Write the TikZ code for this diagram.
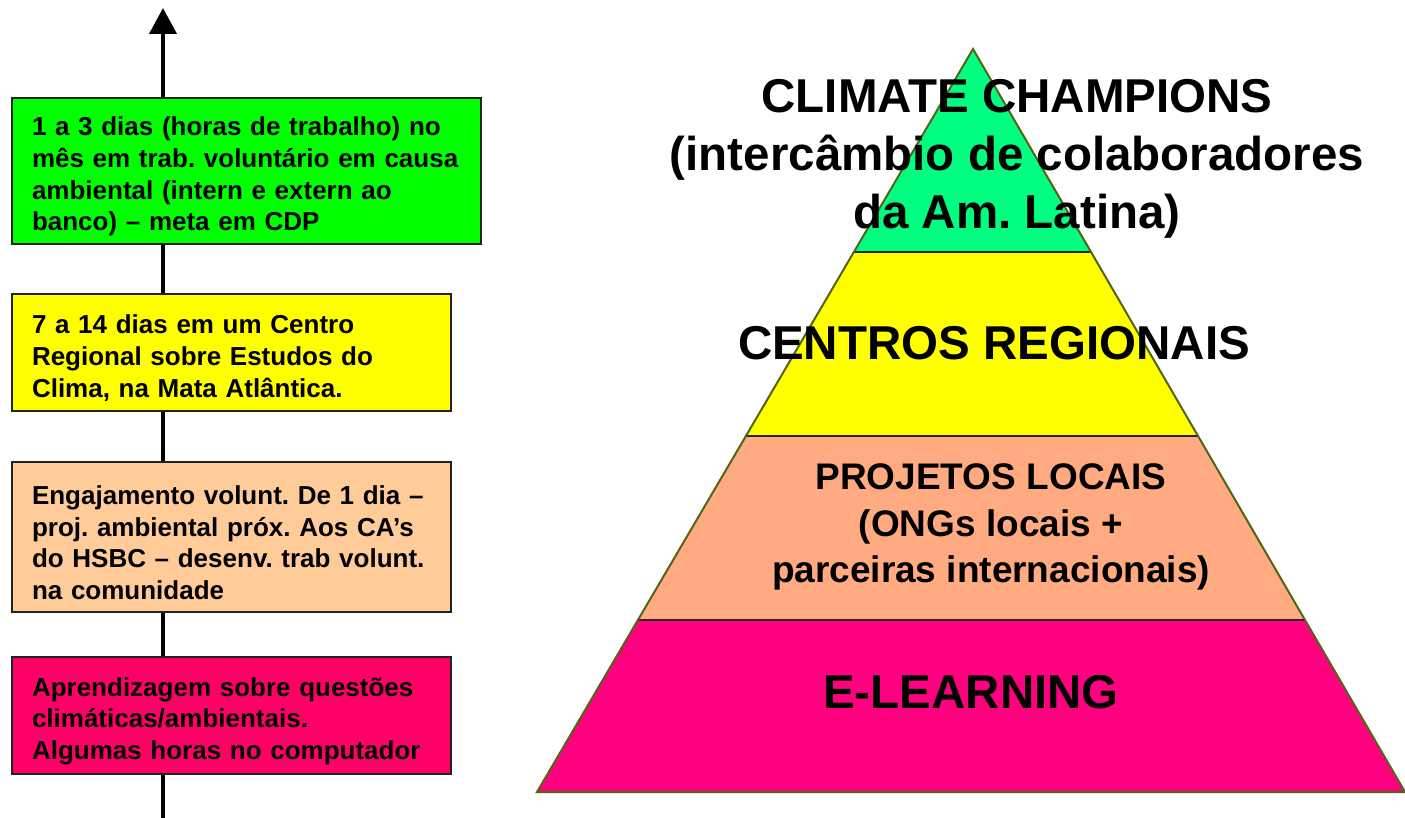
\documentclass[tikz,border=0pt]{standalone}
\usepackage{fontspec}
\setmainfont{Liberation Sans}
\usetikzlibrary{arrows.meta,calc}
\definecolor{boxgreen}{HTML}{00FF00}
\definecolor{boxyellow}{HTML}{FFFF00}
\definecolor{boxpeach}{HTML}{FFCC99}
\definecolor{boxred}{HTML}{FF0066}
\definecolor{pgreen}{HTML}{00FF80}
\definecolor{pyellow}{HTML}{FFFF00}
\definecolor{ppeach}{HTML}{FFAA80}
\definecolor{ppink}{HTML}{FF0080}
\definecolor{pedge}{HTML}{556414}
\definecolor{boxborder}{HTML}{222222}
\frenchspacing
\tikzset{
  lbox/.style={draw=boxborder, line width=2pt, rectangle, inner xsep=20pt, inner ysep=0pt,
    align=left, font=\bfseries\frenchspacing\fontsize{26}{31.7}\selectfont,
    execute at begin node={\rule{0pt}{30pt}}},
  ptext/.style={align=center, inner sep=0pt, font=\bfseries\frenchspacing\fontsize{47.5}{58}\selectfont},
  ptextsmall/.style={align=center, inner sep=0pt, font=\bfseries\frenchspacing\fontsize{37}{46.5}\selectfont},
  divider/.style={draw=black!85, line width=1.5pt},
  outline/.style={draw=pedge, line width=2pt, line join=miter},
}
\begin{document}
\begin{tikzpicture}[x=1pt,y=-1pt]
\useasboundingbox (0,0) rectangle (1405,818);
% arrow
\coordinate (abot) at (163,818);
\coordinate (atop) at (163,8);
\draw[line width=4pt, -{Triangle[length=26pt,width=27pt]}] (abot) -- (atop);
% boxes
\node[lbox, fill=boxgreen, minimum width=469, minimum height=146, text width=429] (b1) at (246.5,171)
 {1 a 3 dias (horas de trabalho) no\\mês em trab. voluntário em causa\\ambiental (intern e extern ao\\banco) – meta em CDP};
\node[lbox, fill=boxyellow, minimum width=439, minimum height=117, text width=399] (b2) at (231.5,352.5)
 {7 a 14 dias em um Centro\\Regional sobre Estudos do\\Clima, na Mata Atlântica.};
\node[lbox, fill=boxpeach, minimum width=439, minimum height=150, text width=399] (b3) at (231.5,537)
 {Engajamento volunt. De 1 dia –\\proj. ambiental próx. Aos CA’s\\do HSBC – desenv. trab volunt.\\na comunidade};
\node[lbox, fill=boxred, minimum width=439, minimum height=117, text width=399] (b4) at (231.5,715.5)
 {Aprendizagem sobre questões\\climáticas/ambientais.\\Algumas horas no computador};
% pyramid
\coordinate (apex) at (973,49);
\coordinate (bl) at (537,792);
\coordinate (br) at (1405,792);
\coordinate (l1) at ($(apex)!0.2732!(bl)$);
\coordinate (r1) at ($(apex)!0.2732!(br)$);
\coordinate (l2) at ($(apex)!0.5209!(bl)$);
\coordinate (r2) at ($(apex)!0.5209!(br)$);
\coordinate (l3) at ($(apex)!0.7685!(bl)$);
\coordinate (r3) at ($(apex)!0.7685!(br)$);
\fill[pgreen] (apex) -- (r1) -- (l1) -- cycle;
\fill[pyellow] (l1) -- (r1) -- (r2) -- (l2) -- cycle;
\fill[ppeach] (l2) -- (r2) -- (r3) -- (l3) -- cycle;
\fill[ppink] (l3) -- (r3) -- (br) -- (bl) -- cycle;
\draw[divider] (l1) -- (r1);
\draw[divider] (l2) -- (r2);
\draw[divider] (l3) -- (r3);
\draw[outline] (apex) -- (br) -- (bl) -- cycle;
% pyramid texts
\node[ptext] (t1) at (1017,159) {CLIMATE CHAMPIONS\\(intercâmbio de colaboradores\\da Am. Latina)};
\node[ptext] (t2) at (994,343) {CENTROS REGIONAIS};
\node[ptextsmall] (t3) at (991,527) {PROJETOS LOCAIS\\(ONGs locais +\\parceiras internacionais)};
\node[ptext] (t4) at (971,692) {E-LEARNING};
\end{tikzpicture}
\end{document}
